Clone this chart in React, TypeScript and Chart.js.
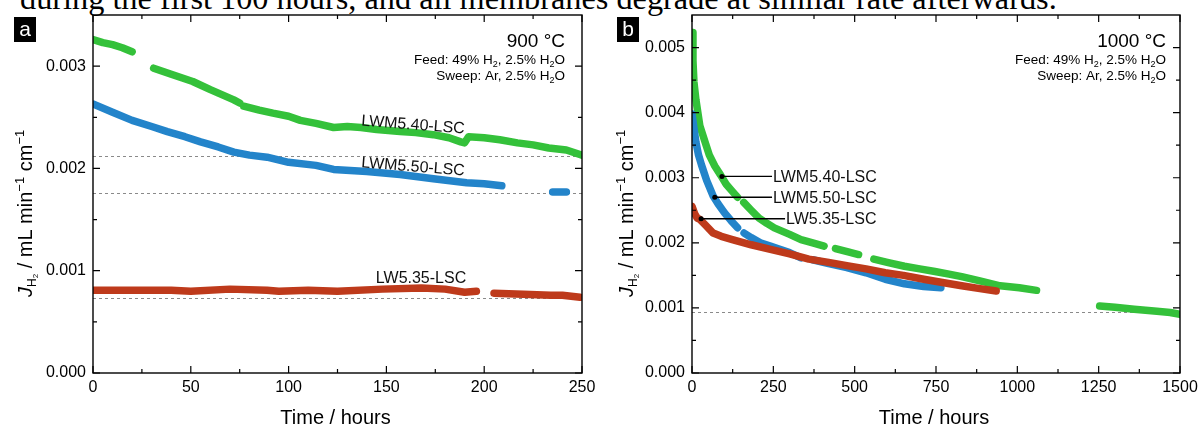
import React, { useEffect, useRef } from "react";
import { Chart, registerables } from "chart.js";

Chart.register(...registerables);

const SANS = "'Liberation Sans', Arial, Helvetica, sans-serif";
const SERIF = "'Liberation Serif', 'Times New Roman', serif";

const GREEN = "#34C13A";
const BLUE = "#2384CA";
const RED = "#BE3A1B";

// ---------------- Panel a (900 °C) ----------------
const A_GREEN_T = [0, 5, 10, 15, 20, 25, 31, 40, 51, 60, 72, 75, 76, 77, 85, 92, 100, 106, 114, 123, 130, 137, 145, 157, 165, 174, 182, 188, 190, 192, 200, 208, 217, 225, 233, 242, 250];
const A_GREEN_V = [0.00326, 0.00323, 0.00321, 0.00318, 0.00314, null, 0.00298, 0.00292, 0.00285, 0.00277, 0.00267, 0.00264, null, 0.00261, 0.00257, 0.00254, 0.00251, 0.00247, 0.00244, 0.0024, 0.00241, 0.0024, 0.00238, 0.00236, 0.00235, 0.00233, 0.0023, 0.00226, 0.00225, 0.00231, 0.0023, 0.00228, 0.00225, 0.00223, 0.0022, 0.00218, 0.00213];

const A_BLUE_T = [0, 10, 20, 30, 38, 47, 55, 64, 72, 80, 89, 100, 114, 123, 140, 157, 174, 191, 200, 209, 220, 235, 242];
const A_BLUE_V = [0.00263, 0.00255, 0.00247, 0.00241, 0.00236, 0.00231, 0.00226, 0.00221, 0.00216, 0.00213, 0.00211, 0.00206, 0.00203, 0.00199, 0.00197, 0.00194, 0.0019, 0.00186, 0.00185, 0.00183, null, 0.00177, 0.00177];

const A_RED_T = [0, 20, 40, 50, 70, 89, 95, 110, 125, 148, 168, 180, 190, 196, 200, 205, 220, 234, 240, 249];
const A_RED_V = [0.00081, 0.00081, 0.00081, 0.0008, 0.00082, 0.00081, 0.0008, 0.00081, 0.0008, 0.00082, 0.00083, 0.00082, 0.00079, 0.0008, null, 0.00078, 0.00077, 0.00076, 0.00076, 0.00074];

const A_DASHES = [0.00212, 0.00176, 0.00073];
const A_X_TICKS = [0, 50, 100, 150, 200, 250];
const A_X_MINOR = [25, 75, 125, 175, 225];
const A_Y_TICKS = [0, 0.001, 0.002, 0.003];
const A_Y_LABELS = ["0.000", "0.001", "0.002", "0.003"];
const A_Y_MINOR = [0.0005, 0.0015, 0.0025];
// labels in data coordinates
const A_LABEL_TEXT = ["LWM5.40-LSC", "LWM5.50-LSC", "LW5.35-LSC"];
const A_LABEL_T = [163.6, 163.6, 167.7];
const A_LABEL_V = [0.002424, 0.002014, 0.000919];
const A_LABEL_ROT = [4.5, 4.5, 0];

// ---------------- Panel b (1000 °C) ----------------
const B_GREEN_T = [0, 3, 6, 12, 24, 40, 53, 70, 88, 105, 124, 140, 150, 159, 182, 206, 230, 253, 300, 335, 371, 406, 425, 441, 480, 512, 535, 559, 600, 653, 700, 747, 790, 829, 888, 947, 1006, 1059, 1150, 1253, 1300, 1359, 1429, 1470, 1500];
const B_GREEN_V = [0.00523, 0.0048, 0.00447, 0.0042, 0.0038, 0.00355, 0.00335, 0.00318, 0.00304, 0.0029, 0.00279, 0.0027, null, 0.00262, 0.0025, 0.00238, 0.0023, 0.00223, 0.00213, 0.00205, 0.002, 0.00195, null, 0.00191, 0.00186, 0.00182, null, 0.00175, 0.0017, 0.00164, 0.0016, 0.00156, 0.00152, 0.00148, 0.00141, 0.00134, 0.00131, 0.00127, null, 0.00103, 0.00101, 0.00098, 0.00095, 0.00093, 0.0009];

const B_BLUE_T = [0, 5, 12, 20, 29, 45, 65, 80, 100, 120, 140, 150, 160, 182, 210, 241, 270, 300, 335, 350, 371, 420, 476, 535, 594, 653, 712, 765];
const B_BLUE_V = [0.00398, 0.0038, 0.00355, 0.00335, 0.0032, 0.00296, 0.00272, 0.0026, 0.00246, 0.00234, 0.00223, null, 0.00215, 0.00208, 0.002, 0.00195, 0.0019, 0.00185, 0.00177, null, 0.00174, 0.00168, 0.00162, 0.00154, 0.00144, 0.00137, 0.00133, 0.00131];

const B_RED_T = [0, 8, 16, 24, 40, 65, 90, 124, 182, 241, 300, 359, 420, 476, 535, 594, 650, 712, 770, 829, 880, 935];
const B_RED_V = [0.00256, 0.00245, 0.00238, 0.00236, 0.00228, 0.00215, 0.0021, 0.00205, 0.00197, 0.0019, 0.00183, 0.00175, 0.0017, 0.00165, 0.0016, 0.00154, 0.0015, 0.00144, 0.00139, 0.00134, 0.0013, 0.00126];

const B_DASHES = [0.00093];
const B_X_TICKS = [0, 250, 500, 750, 1000, 1250, 1500];
const B_X_MINOR = [125, 375, 625, 875, 1125, 1375];
const B_Y_TICKS = [0, 0.001, 0.002, 0.003, 0.004, 0.005];
const B_Y_LABELS = ["0.000", "0.001", "0.002", "0.003", "0.004", "0.005"];
const B_Y_MINOR = [0.0005, 0.0015, 0.0025, 0.0035, 0.0045];
// leader-line labels: dot (time, value) and text start time
const B_LABEL_TEXT = ["LWM5.40-LSC", "LWM5.50-LSC", "LW5.35-LSC"];
const B_DOT_T = [92, 70, 28];
const B_DOT_V = [0.00302, 0.0027, 0.00237];
const B_TEXT_T = [246, 246, 286];

const HEADER = "during the first 100 hours, and all membranes degrade at similar rate afterwards.";

type Part = { t: string; s: number; dy?: number; it?: boolean };

function font(p: Part) {
  return `${p.it ? "italic " : ""}${p.s}px ${SANS}`;
}

function drawRich(ctx: CanvasRenderingContext2D, parts: Part[], x: number, y: number, align: string) {
  let w = 0;
  for (const p of parts) {
    ctx.font = font(p);
    w += ctx.measureText(p.t).width;
  }
  let cx = align === "right" ? x - w : align === "center" ? x - w / 2 : x;
  ctx.textAlign = "left";
  for (const p of parts) {
    ctx.font = font(p);
    ctx.fillText(p.t, cx, y + (p.dy || 0));
    cx += ctx.measureText(p.t).width;
  }
}

const Y_TITLE: Part[] = [
  { t: "J", s: 20, it: true },
  { t: "H", s: 12, dy: 4 },
  { t: "2", s: 8, dy: 6 },
  { t: " / mL min", s: 20 },
  { t: "\u22121", s: 13, dy: -8 },
  { t: " cm", s: 20 },
  { t: "\u22121", s: 13, dy: -8 },
];
const FEED: Part[] = [
  { t: "Feed: 49% H", s: 13.5 },
  { t: "2", s: 9, dy: 3 },
  { t: ", 2.5% H", s: 13.5 },
  { t: "2", s: 9, dy: 3 },
  { t: "O", s: 13.5 },
];
const SWEEP: Part[] = [
  { t: "Sweep: Ar, 2.5% H", s: 13.5 },
  { t: "2", s: 9, dy: 3 },
  { t: "O", s: 13.5 },
];

function series(ts: number[], vs: (number | null)[], color: string) {
  return {
    data: ts.map((t, i) => ({ x: t, y: vs[i] })),
    showLine: true,
    borderColor: color,
    backgroundColor: color,
    borderWidth: 7.5,
    pointRadius: 0,
    borderCapStyle: "round",
    borderJoinStyle: "round",
    spanGaps: false,
    tension: 0,
    clip: 0,
  };
}

type PanelCfg = {
  letter: string;
  temp: string;
  xMax: number;
  yMax: number;
  xTicks: number[];
  xMinor: number[];
  yTicks: number[];
  yLabels: string[];
  yMinor: number[];
  dashes: number[];
  datasets: any[];
  padding: { left: number; right: number; top: number; bottom: number };
  textRight: number;
  titleX: number;
  boxX: number;
  extra: (ctx: CanvasRenderingContext2D, chart: any) => void;
};

function makePlugin(cfg: PanelCfg) {
  return {
    id: "decor" + cfg.letter,
    beforeDatasetsDraw(chart: any) {
      const ctx = chart.ctx as CanvasRenderingContext2D;
      const ca = chart.chartArea;
      const ys = chart.scales.y;
      ctx.save();
      ctx.strokeStyle = "#8a8a8a";
      ctx.lineWidth = 1;
      ctx.setLineDash([3, 3]);
      for (const v of cfg.dashes) {
        const y = Math.round(ys.getPixelForValue(v)) + 0.5;
        ctx.beginPath();
        ctx.moveTo(ca.left, y);
        ctx.lineTo(ca.right, y);
        ctx.stroke();
      }
      ctx.restore();
    },
    afterDraw(chart: any) {
      const ctx = chart.ctx as CanvasRenderingContext2D;
      const ca = chart.chartArea;
      const xs = chart.scales.x;
      const ys = chart.scales.y;
      ctx.save();
      ctx.strokeStyle = "#000";
      ctx.fillStyle = "#000";
      ctx.lineWidth = 1.4;
      ctx.strokeRect(ca.left, ca.top, ca.right - ca.left, ca.bottom - ca.top);
      const tick = (vals: number[], len: number) => {
        for (const v of vals) {
          const x = xs.getPixelForValue(v);
          ctx.beginPath();
          ctx.moveTo(x, ca.bottom);
          ctx.lineTo(x, ca.bottom - len);
          ctx.moveTo(x, ca.top);
          ctx.lineTo(x, ca.top + len);
          ctx.stroke();
        }
      };
      const ytick = (vals: number[], len: number) => {
        for (const v of vals) {
          const y = ys.getPixelForValue(v);
          ctx.beginPath();
          ctx.moveTo(ca.left, y);
          ctx.lineTo(ca.left + len, y);
          ctx.moveTo(ca.right, y);
          ctx.lineTo(ca.right - len, y);
          ctx.stroke();
        }
      };
      ctx.lineWidth = 1.2;
      tick(cfg.xTicks, 7);
      tick(cfg.xMinor, 4);
      ytick(cfg.yTicks, 7);
      ytick(cfg.yMinor, 4);

      // tick labels
      ctx.font = `16px ${SANS}`;
      ctx.textBaseline = "middle";
      ctx.textAlign = "center";
      for (const v of cfg.xTicks) {
        ctx.fillText(String(v), xs.getPixelForValue(v), ca.bottom + 15);
      }
      ctx.textAlign = "right";
      cfg.yTicks.forEach((v, i) => {
        ctx.fillText(cfg.yLabels[i], ca.left - 7, ys.getPixelForValue(v));
      });

      // axis titles
      ctx.textBaseline = "alphabetic";
      ctx.font = `20px ${SANS}`;
      ctx.textAlign = "center";
      ctx.fillText("Time / hours", (ca.left + ca.right) / 2 - 2, ca.bottom + 51);
      ctx.save();
      ctx.translate(cfg.titleX, 297);
      ctx.rotate(-Math.PI / 2);
      drawRich(ctx, Y_TITLE, 0, 0, "left");
      ctx.restore();

      // condition text
      ctx.font = `19px ${SANS}`;
      ctx.textAlign = "right";
      ctx.fillText(cfg.temp, cfg.textRight, 47);
      drawRich(ctx, FEED, cfg.textRight, 64, "right");
      drawRich(ctx, SWEEP, cfg.textRight, 80, "right");

      // panel letter
      ctx.fillStyle = "#000";
      ctx.fillRect(cfg.boxX, 17, 22, 25);
      ctx.fillStyle = "#fff";
      ctx.font = `21px ${SANS}`;
      ctx.textAlign = "center";
      ctx.textBaseline = "alphabetic";
      ctx.fillText(cfg.letter, cfg.boxX + 11, 36);
      ctx.fillStyle = "#000";

      cfg.extra(ctx, chart);
      ctx.restore();
    },
  };
}

const PANEL_A: PanelCfg = {
  letter: "a",
  temp: "900 \u00B0C",
  xMax: 250,
  yMax: 0.0035,
  xTicks: A_X_TICKS,
  xMinor: A_X_MINOR,
  yTicks: A_Y_TICKS,
  yLabels: A_Y_LABELS,
  yMinor: A_Y_MINOR,
  dashes: A_DASHES,
  datasets: [
    series(A_RED_T, A_RED_V, RED),
    series(A_BLUE_T, A_BLUE_V, BLUE),
    series(A_GREEN_T, A_GREEN_V, GREEN),
  ],
  padding: { left: 93, right: 18, top: 15, bottom: 53 },
  textRight: 565,
  titleX: 32,
  boxX: 14,
  extra: (ctx, chart) => {
    const xs = chart.scales.x;
    const ys = chart.scales.y;
    ctx.font = `16px ${SANS}`;
    ctx.fillStyle = "#111";
    ctx.textAlign = "center";
    ctx.textBaseline = "middle";
    A_LABEL_TEXT.forEach((txt, i) => {
      ctx.save();
      ctx.translate(xs.getPixelForValue(A_LABEL_T[i]), ys.getPixelForValue(A_LABEL_V[i]));
      ctx.rotate((A_LABEL_ROT[i] * Math.PI) / 180);
      ctx.fillText(txt, 0, 0);
      ctx.restore();
    });
  },
};

const PANEL_B: PanelCfg = {
  letter: "b",
  temp: "1000 \u00B0C",
  xMax: 1500,
  yMax: 0.0055,
  xTicks: B_X_TICKS,
  xMinor: B_X_MINOR,
  yTicks: B_Y_TICKS,
  yLabels: B_Y_LABELS,
  yMinor: B_Y_MINOR,
  dashes: B_DASHES,
  datasets: [
    series(B_RED_T, B_RED_V, RED),
    series(B_BLUE_T, B_BLUE_V, BLUE),
    series(B_GREEN_T, B_GREEN_V, GREEN),
  ],
  padding: { left: 92, right: 19, top: 15, bottom: 53 },
  textRight: 566,
  titleX: 33,
  boxX: 17,
  extra: (ctx, chart) => {
    const xs = chart.scales.x;
    const ys = chart.scales.y;
    ctx.font = `16px ${SANS}`;
    ctx.textAlign = "left";
    ctx.textBaseline = "middle";
    ctx.lineWidth = 1.3;
    B_LABEL_TEXT.forEach((txt, i) => {
      const dx = xs.getPixelForValue(B_DOT_T[i]);
      const dy = ys.getPixelForValue(B_DOT_V[i]);
      const tx = xs.getPixelForValue(B_TEXT_T[i]);
      ctx.strokeStyle = "#000";
      ctx.fillStyle = "#000";
      ctx.beginPath();
      ctx.moveTo(dx, dy);
      ctx.lineTo(tx, dy);
      ctx.stroke();
      ctx.beginPath();
      ctx.arc(dx, dy, 2.5, 0, Math.PI * 2);
      ctx.fill();
      ctx.fillStyle = "#111";
      ctx.fillText(txt, tx + 1, dy + 1);
    });
  },
};

function Panel({ cfg, left, width }: { cfg: PanelCfg; left: number; width: number }) {
  const ref = useRef<HTMLCanvasElement | null>(null);
  useEffect(() => {
    if (!ref.current) return;
    const chart = new Chart(ref.current, {
      type: "scatter",
      data: { datasets: cfg.datasets },
      options: {
        responsive: false,
        animation: false,
        events: [],
        layout: { padding: cfg.padding },
        scales: {
          x: { type: "linear", min: 0, max: cfg.xMax, display: false },
          y: { type: "linear", min: 0, max: cfg.yMax, display: false },
        },
        plugins: { legend: { display: false }, tooltip: { enabled: false } },
      },
      plugins: [makePlugin(cfg)],
    } as any);
    return () => chart.destroy();
  }, [cfg]);
  return (
    <canvas
      ref={ref}
      width={width}
      height={426}
      style={{ position: "absolute", left, top: 0, width, height: 426, display: "block" }}
    />
  );
}

export default function App() {
  return (
    <div
      style={{
        position: "fixed",
        left: 0,
        top: 0,
        width: 1199,
        height: 426,
        background: "#fff",
        overflow: "hidden",
      }}
    >
      <div
        style={{
          position: "absolute",
          left: 20,
          top: -18,
          fontFamily: SERIF,
          fontSize: 32.3,
          lineHeight: "32.3px",
          whiteSpace: "nowrap",
          color: "#000",
        }}
      >
        {HEADER}
      </div>
      <Panel cfg={PANEL_A} left={0} width={600} />
      <Panel cfg={PANEL_B} left={600} width={599} />
    </div>
  );
}
